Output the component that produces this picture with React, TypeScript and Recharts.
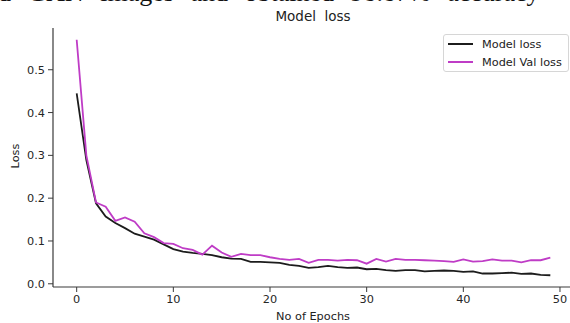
import { LineChart, Line, XAxis, YAxis } from 'recharts';

const epochs = Array.from({ length: 50 }, (_, i) => i);

const trainLoss = [
  0.445, 0.289, 0.188, 0.157, 0.142, 0.130, 0.117, 0.110, 0.103, 0.092,
  0.081, 0.075, 0.072, 0.070, 0.067, 0.062, 0.059, 0.058, 0.051, 0.051,
  0.050, 0.049, 0.044, 0.042, 0.037, 0.039, 0.042, 0.039, 0.037, 0.038,
  0.034, 0.035, 0.032, 0.030, 0.032, 0.032, 0.029, 0.030, 0.031, 0.030,
  0.028, 0.029, 0.024, 0.024, 0.025, 0.026, 0.023, 0.024, 0.021, 0.020,
];

const valLoss = [
  0.570, 0.300, 0.190, 0.180, 0.147, 0.155, 0.145, 0.118, 0.109, 0.095,
  0.093, 0.083, 0.079, 0.068, 0.089, 0.073, 0.063, 0.070, 0.067, 0.067,
  0.062, 0.058, 0.056, 0.058, 0.049, 0.056, 0.056, 0.054, 0.056, 0.055,
  0.047, 0.058, 0.052, 0.058, 0.056, 0.056, 0.055, 0.054, 0.053, 0.051,
  0.057, 0.052, 0.053, 0.057, 0.054, 0.054, 0.050, 0.055, 0.055, 0.061,
];

const xTicks = [0, 10, 20, 30, 40, 50];
const yTicks = [0, 0.1, 0.2, 0.3, 0.4, 0.5];

const series = [
  { key: 'loss', name: 'Model loss', color: '#1c1c1c' },
  { key: 'val', name: 'Model Val loss', color: '#bf3cc6' },
];

const data = epochs.map((e, i) => ({ epoch: e, loss: trainLoss[i], val: valLoss[i] }));

const font = '"DejaVu Sans", sans-serif';
const axisColor = '#3a3a3a';
const tick = { fontSize: 11.3, fill: '#262626', fontFamily: font };

function LegendBox() {
  return (
    <div style={{
      position: 'absolute',
      left: 443,
      top: 34,
      border: '1px solid #d6d6d6',
      borderRadius: 3,
      background: 'rgba(255,255,255,0.85)',
      width: 124,
      fontFamily: font,
      fontSize: 11.3,
      color: '#222',
    }}>
      {series.map((s) => (
        <div key={s.key} style={{ height: 18, display: 'flex', alignItems: 'center' }}>
          <div style={{ width: 25, height: 2, background: s.color, marginLeft: 4, marginRight: 9 }} />
          <span>{s.name}</span>
        </div>
      ))}
    </div>
  );
}

export default function App() {
  return (
    <div style={{ position: 'absolute', left: 0, top: 0, width: 570, height: 323, overflow: 'hidden', background: '#fff' }}>
      {/* clipped caption line from the page above the figure */}
      <div style={{
        position: 'absolute', left: -2, top: -20, whiteSpace: 'nowrap',
        fontFamily: '"Liberation Serif", serif', fontSize: 26, lineHeight: '26px',
        wordSpacing: 10, color: '#111',
      }}>
        d GAN images and obtained 98.87% accuracy
      </div>

      <div style={{
        position: 'absolute', left: 313, top: 16, transform: 'translate(-50%, -50%)',
        fontFamily: font, fontSize: 13.5, color: '#222', whiteSpace: 'pre',
      }}>
        Model  loss
      </div>

      <div style={{
        position: 'absolute', left: 15, top: 156, transform: 'translate(-50%, -50%) rotate(-90deg)',
        fontFamily: font, fontSize: 11.3, color: '#222',
      }}>
        Loss
      </div>

      <div style={{
        position: 'absolute', left: 313, top: 316, transform: 'translate(-50%, -50%)',
        fontFamily: font, fontSize: 11.3, color: '#222', whiteSpace: 'nowrap',
      }}>
        No of Epochs
      </div>

      <div style={{ position: 'absolute', left: 0, top: 0 }}>
        <LineChart width={580} height={323} data={data} margin={{ top: 28, right: 6, bottom: 0, left: 0 }}>
          <XAxis
            dataKey="epoch"
            type="number"
            domain={[-2.45, 51.45]}
            ticks={xTicks}
            allowDataOverflow
            height={36}
            tick={tick}
            tickSize={5}
            tickMargin={3}
            stroke={axisColor}
            axisLine={{ stroke: axisColor, strokeWidth: 1.2 }}
          />
          <XAxis
            xAxisId="top"
            orientation="top"
            type="number"
            domain={[-2.45, 51.45]}
            height={0}
            tick={false}
            tickLine={false}
            axisLine={{ stroke: axisColor, strokeWidth: 1.2 }}
          />
          <YAxis
            type="number"
            domain={[-0.0075, 0.5975]}
            ticks={yTicks}
            allowDataOverflow
            width={53}
            tick={tick}
            tickSize={5}
            tickMargin={3}
            tickFormatter={(v: number) => v.toFixed(1)}
            stroke={axisColor}
            axisLine={{ stroke: axisColor, strokeWidth: 1.2 }}
          />
          {series.map((s) => (
            <Line
              key={s.key}
              dataKey={s.key}
              name={s.name}
              type="linear"
              stroke={s.color}
              strokeWidth={1.8}
              dot={false}
              activeDot={false}
              isAnimationActive={false}
            />
          ))}
        </LineChart>
      </div>
      <LegendBox />
    </div>
  );
}
